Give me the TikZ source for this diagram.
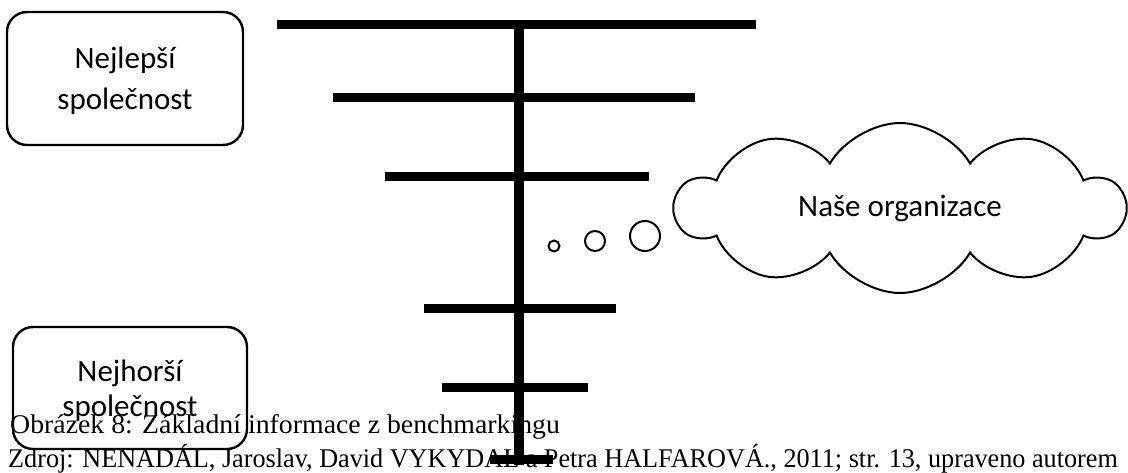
\documentclass[tikz,border=0pt]{standalone}
\usepackage{fontspec}
\setmainfont{Carlito}
\newfontfamily\capfont{Liberation Serif}
\usetikzlibrary{shapes.symbols}

\begin{document}
\begin{tikzpicture}[x=1pt,y=-1pt]
  \tikzstyle{compbox}=[draw,line width=2.4pt,rounded corners=20pt,align=center,minimum width=236pt,text depth=0pt]
  \tikzstyle{bar}=[line width=9pt]
  \tikzstyle{bubble}=[draw,circle,line width=2pt,inner sep=0pt]
  \tikzstyle{captext}=[anchor=base west,inner sep=0pt,font=\capfont\fontsize{27}{30}\selectfont]
  \def\boxfont{\fontsize{31}{41}\selectfont}

  \useasboundingbox (0,0) rectangle (1128,472);

  \node [captext] (title) at (10,433) {\scalebox{1.03}[1]{Obrázek 8: Základní informace z benchmarkingu}} ;
  \node [captext] (source) at (8,467) {\scalebox{0.97}[1]{Zdroj: NENADÁL, Jaroslav, David VYKYDAL a Petra HALFAROVÁ., 2011; str. 13, upraveno autorem}} ;

  \node [compbox,minimum height=133pt,font=\boxfont] (best) at (125,78.5) {Nejlepší\\společnost} ;
  \node [compbox,minimum height=122pt,minimum width=234pt,font=\fontsize{31}{35}\selectfont] (worst) at (130,388) {Nejhorší\\společnost} ;

  \draw [line width=10pt] (519,20) -- (519,465) ;
  \draw [bar] (277,24.5) -- (756,24.5) ;
  \draw [bar] (333,97) -- (695,97) ;
  \draw [bar] (385,176) -- (649,176) ;
  \draw [bar] (424,308) -- (616,308) ;
  \draw [bar] (442,387) -- (588,387) ;
  \draw [bar] (490,459) -- (553,459) ;

  \node [bubble,minimum size=11pt] (dot1) at (554,246) {} ;
  \node [bubble,minimum size=20pt] (dot2) at (595,241) {} ;
  \node [bubble,minimum size=30pt] (dot3) at (645,236) {} ;

  \node [cloud,draw,line width=2pt,cloud puffs=10,cloud puff arc=120,aspect=2.6,
    minimum width=448pt,minimum height=170pt,font=\boxfont] (ours) at (900,208) {Naše organizace} ;
\end{tikzpicture}
\end{document}
